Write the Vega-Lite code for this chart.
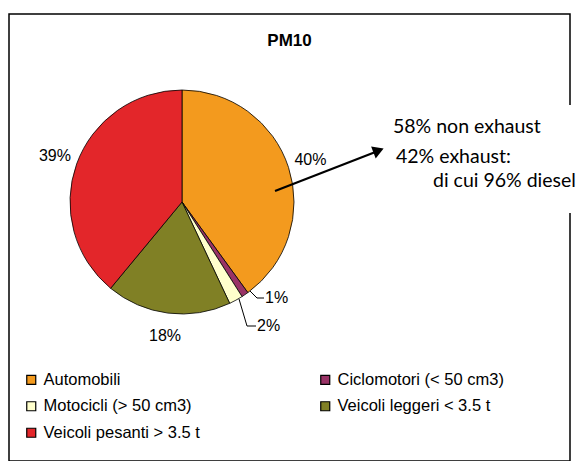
{
  "$schema": "https://vega.github.io/schema/vega-lite/v6.json",
  "width": 561,
  "height": 447,
  "padding": {"left": 9, "top": 14, "right": 12, "bottom": 0},
  "background": "white",
  "config": {"view": {"stroke": "#000", "strokeWidth": 1.5}, "font": "Liberation Sans"},
  "title": {"text": "PM10", "fontSize": 17, "fontWeight": "bold", "font": "Liberation Sans", "color": "#000", "anchor": "middle", "offset": -44, "baseline": "middle"},
  "data": {"values": [
    {"category": "Automobili", "value": 40, "label": "40%"},
    {"category": "Ciclomotori (< 50 cm3)", "value": 1, "label": "1%"},
    {"category": "Motocicli (> 50 cm3)", "value": 2, "label": "2%"},
    {"category": "Veicoli leggeri < 3.5 t", "value": 18, "label": "18%"},
    {"category": "Veicoli pesanti > 3.5 t", "value": 39, "label": "39%"}
  ]},
  "layer": [
    {
      "mark": {"type": "arc", "outerRadius": 112, "stroke": "#000", "strokeWidth": 0.8},
      "encoding": {
        "theta": {"field": "value", "type": "quantitative", "stack": true},
        "order": {"field": "category"},
        "color": {
          "field": "category", "type": "nominal",
          "scale": {"domain": ["Automobili", "Ciclomotori (< 50 cm3)", "Motocicli (> 50 cm3)", "Veicoli leggeri < 3.5 t", "Veicoli pesanti > 3.5 t"],
                    "range": ["#F39A1E", "#993366", "#FFFFCC", "#808025", "#E3262A"]},
          "legend": {"orient": "none", "legendX": 14, "legendY": 357.5, "columns": 2, "direction": "horizontal", "title": null, "padding": 0,
                     "symbolType": "square", "symbolSize": 81, "symbolStrokeColor": "#000", "symbolStrokeWidth": 1.2,
                     "labelFontSize": 16.5, "labelFont": "Liberation Sans", "labelColor": "#000", "labelOffset": 4,
                     "rowPadding": 9.5, "columnPadding": 117, "labelLimit": 300}
        },
        "x": {"datum": 173, "type": "quantitative", "scale": {"domain": [0, 561], "nice": false, "zero": false}, "axis": null},
        "y": {"datum": 188, "type": "quantitative", "scale": {"domain": [0, 447], "nice": false, "zero": false, "reverse": true}, "axis": null}
      }
    },
    {
      "mark": {"type": "text", "radius": 135, "fontSize": 16, "font": "Liberation Sans", "color": "#000"},
      "encoding": {
        "theta": {"field": "value", "type": "quantitative", "stack": true},
        "order": {"field": "category"},
        "text": {"condition": {"test": "datum.value < 5", "value": ""}, "field": "label"},
        "x": {"datum": 173, "type": "quantitative"},
        "y": {"datum": 188, "type": "quantitative"}
      }
    },
    {
      "data": {"values": [{}]},
      "layer": [
        {"mark": {"type": "rule", "color": "#000", "strokeWidth": 1},
         "encoding": {"x": {"datum": 241, "type": "quantitative"}, "y": {"datum": 277, "type": "quantitative"}, "x2": {"datum": 248}, "y2": {"datum": 284}}},
        {"mark": {"type": "rule", "color": "#000", "strokeWidth": 1},
         "encoding": {"x": {"datum": 248, "type": "quantitative"}, "y": {"datum": 284, "type": "quantitative"}, "x2": {"datum": 255}, "y2": {"datum": 284}}},
        {"mark": {"type": "rule", "color": "#000", "strokeWidth": 1},
         "encoding": {"x": {"datum": 230, "type": "quantitative"}, "y": {"datum": 285, "type": "quantitative"}, "x2": {"datum": 238}, "y2": {"datum": 312}}},
        {"mark": {"type": "rule", "color": "#000", "strokeWidth": 1},
         "encoding": {"x": {"datum": 238, "type": "quantitative"}, "y": {"datum": 312, "type": "quantitative"}, "x2": {"datum": 247}, "y2": {"datum": 312}}},
        {"mark": {"type": "text", "text": "1%", "align": "left", "baseline": "middle", "fontSize": 16, "font": "Liberation Sans", "color": "#000"},
         "encoding": {"x": {"datum": 256, "type": "quantitative"}, "y": {"datum": 284, "type": "quantitative"}}},
        {"mark": {"type": "text", "text": "2%", "align": "left", "baseline": "middle", "fontSize": 16, "font": "Liberation Sans", "color": "#000"},
         "encoding": {"x": {"datum": 248, "type": "quantitative"}, "y": {"datum": 312, "type": "quantitative"}}},
        {"mark": {"type": "rule", "color": "#000", "strokeWidth": 2.2},
         "encoding": {"x": {"datum": 266, "type": "quantitative"}, "y": {"datum": 177, "type": "quantitative"}, "x2": {"datum": 369}, "y2": {"datum": 137}}},
        {"mark": {"type": "point", "shape": "triangle-right", "filled": true, "color": "#000", "size": 160, "angle": 338.7, "opacity": 1},
         "encoding": {"x": {"datum": 369.5, "type": "quantitative"}, "y": {"datum": 136.5, "type": "quantitative"}}},
        {"mark": {"type": "rect", "color": "white"},
         "encoding": {"x": {"datum": 556, "type": "quantitative"}, "x2": {"datum": 566}, "y": {"datum": 91, "type": "quantitative"}, "y2": {"datum": 199}}},
        {"mark": {"type": "text", "text": "58% non exhaust", "align": "left", "baseline": "middle", "fontSize": 19.5, "font": "Lato", "color": "#000"},
         "encoding": {"x": {"datum": 384, "type": "quantitative"}, "y": {"datum": 113, "type": "quantitative"}}},
        {"mark": {"type": "text", "text": "42% exhaust:", "align": "left", "baseline": "middle", "fontSize": 19.5, "font": "Lato", "color": "#000"},
         "encoding": {"x": {"datum": 387, "type": "quantitative"}, "y": {"datum": 143, "type": "quantitative"}}},
        {"mark": {"type": "text", "text": "di cui 96% diesel", "align": "left", "baseline": "middle", "fontSize": 19.5, "font": "Lato", "color": "#000"},
         "encoding": {"x": {"datum": 424, "type": "quantitative"}, "y": {"datum": 167, "type": "quantitative"}}}
      ]
    }
  ]
}
